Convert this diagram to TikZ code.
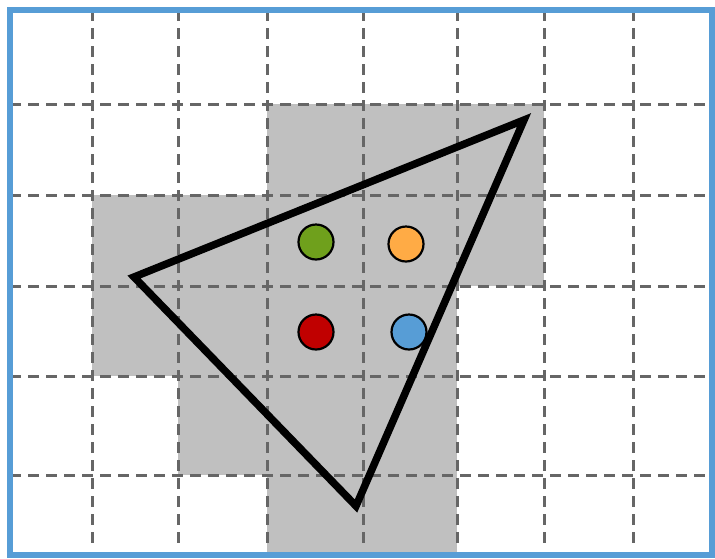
\documentclass[tikz,border=0pt]{standalone}
\usetikzlibrary{calc}
\definecolor{borderblue}{HTML}{579DD6}
\definecolor{cellgray}{HTML}{C0C0C0}
\definecolor{gridgray}{HTML}{666666}
\definecolor{dotgreen}{HTML}{6FA01C}
\definecolor{dotorange}{HTML}{FFAB45}
\definecolor{dotred}{HTML}{C00000}
\definecolor{dotblue}{HTML}{579DD6}
\tikzset{
  gridline/.style={draw=gridgray, line width=3pt, dash pattern=on 11pt off 7pt},
  cell/.style={fill=cellgray, draw=none},
  dot/.style={circle, draw=black, line width=2.2pt, minimum size=35pt, inner sep=0pt},
  tri/.style={draw=black, line width=7.5pt, line join=miter},
  frame/.style={draw=borderblue, line width=6pt}
}
\begin{document}
\begin{tikzpicture}[x=1pt, y=-1pt]
\useasboundingbox (0,0) rectangle (715,558);
\fill[white] (0,0) rectangle (715,558);
% gray cells
\path[cell] (267,104) rectangle (544,195);
\path[cell] (92,195) rectangle (544,286);
\path[cell] (92,286) rectangle (457,376);
\path[cell] (178,376) rectangle (457,475);
\path[cell] (267,475) rectangle (457,556);
% grid
\foreach \x in {92,178,267,363,457,544,633} {
  \draw[gridline] (\x,10) -- (\x,548);
}
\foreach \y in {104,195,286,376,475} {
  \draw[gridline] (10,\y) -- (712,\y);
}
% triangle
\coordinate (A) at (134,277);
\coordinate (B) at (524,120);
\coordinate (C) at (356,506);
\draw[tri] (A) -- (B) -- (C) -- cycle;
% dots
\node[dot, fill=dotgreen] (g) at (316,242) {};
\node[dot, fill=dotorange] (o) at (406,244) {};
\node[dot, fill=dotred] (r) at (316,332) {};
\node[dot, fill=dotblue] (b) at (409,332) {};
% frame
\draw[frame] (10,10) rectangle (712,555);
\end{tikzpicture}
\end{document}
